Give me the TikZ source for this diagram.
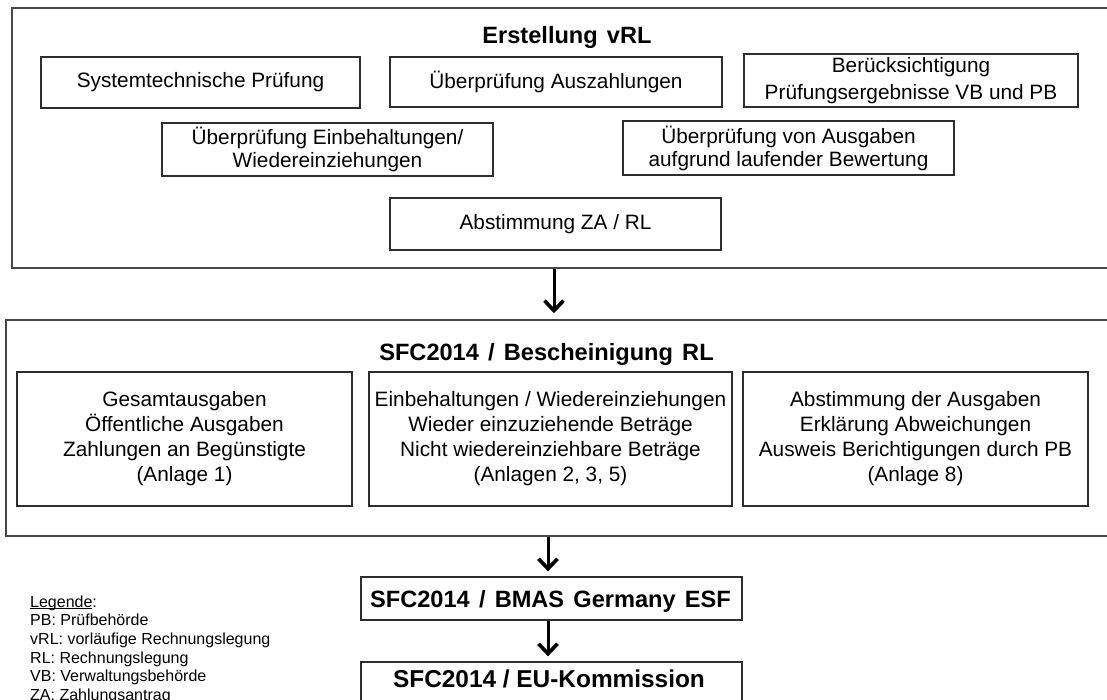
\documentclass[tikz,border=0pt]{standalone}
\usepackage{fontspec}
\setmainfont{Liberation Sans}
\usetikzlibrary{arrows.meta}

% underline that sits just under the baseline (descenders cross it)
\newlength\lowulw
\newcommand\lowul[1]{\settowidth\lowulw{#1}\rlap{\rule[-1.8pt]{\lowulw}{0.9pt}}#1}

% wider word spacing, as a multiple of the font's normal space
\newlength\wsbase
\newcommand\widespace[1]{\wsbase=\fontdimen2\font\relax\spaceskip=#1\wsbase\relax}

% box placed by its corners (x1,y1) and (x2,y2), y counted downwards
\newcommand\placebox[7]{%
  \node[#1, minimum width={#4pt-#2pt}, minimum height={#5pt-#3pt}]
    (#6) at ({(#2+#4)/2},{(#3+#5)/2}) {#7};}

\newcommand\titlefont{\fontsize{23.6}{27}\selectfont\bfseries\widespace{1.4}}

\tikzset{
  outerbox/.style={draw=black!72, line width=1.5pt, inner sep=0pt},
  itembox/.style={draw=black!82, line width=1.3pt, inner sep=0pt, align=center,
    font=\fontsize{20.8}{25}\selectfont},
  tightbox/.style={itembox, font=\fontsize{20.8}{23}\selectfont},
  loosebox/.style={itembox, font=\fontsize{20.8}{27}\selectfont},
  flowbox/.style={draw=black!82, line width=1.3pt, inner sep=0pt},
  titletext/.style={anchor=base, inner sep=0pt, font=\titlefont},
  legendtext/.style={anchor=base west, inner sep=0pt, font=\fontsize{16}{18.7}\selectfont},
  barbhead/.tip={Straight Barb[length=10pt, width=19pt, line width=3.6pt]},
}

\begin{document}
\begin{tikzpicture}[x=1pt, y=-1pt]
  \useasboundingbox (0,0) rectangle (1107,700);
  \fill[white] (0,0) rectangle (1107,700);
  \clip (0,0) rectangle (1107,700);

  % --- stage 1: preparation of the provisional accounts
  \placebox{outerbox}{12}{8}{1130}{268}{erst}{}
  \node[titletext] (erstTitle) at (567,44) {Erstellung vRL};
  \placebox{itembox}{41}{57}{360}{108}{sysp}{Systemtechnische Prüfung}
  \placebox{itembox}{390}{57}{722}{107}{ausz}{Überprüfung Auszahlungen}
  \placebox{loosebox}{744}{54}{1078}{107}{beru}{Berücksichtigung\\Prüfungsergebnisse VB und PB}
  \placebox{tightbox}{162}{123}{493}{176}{einb}{Überprüfung Einbehaltungen/\\Wiedereinziehungen}
  \placebox{tightbox}{623}{121}{954}{175}{ausg}{Überprüfung von Ausgaben\\aufgrund laufender Bewertung}
  \placebox{itembox}{390}{198}{721}{250}{abst}{Abstimmung ZA / RL}

  % --- stage 2: certification in SFC2014
  \placebox{outerbox}{6}{320}{1130}{536}{sfc}{}
  \node[titletext] (sfcTitle) at (546.5,360) {SFC2014 / Bescheinigung RL};
  \placebox{itembox}{17}{372}{352}{506}{anl1}{Gesamtausgaben\\Öffentliche Ausgaben\\Zahlungen an Begünstigte\\(Anlage 1)}
  \placebox{itembox}{369}{372}{732}{506}{anl2}{Einbehaltungen / Wiedereinziehungen\\Wieder einzuziehende Beträge\\Nicht wiedereinziehbare Beträge\\(Anlagen 2, 3, 5)}
  \placebox{itembox}{743}{372}{1088}{506}{anl8}{Abstimmung der Ausgaben\\Erklärung Abweichungen\\Ausweis Berichtigungen durch PB\\(Anlage 8)}

  % --- stages 3 and 4: transmission
  \placebox{flowbox}{361}{577}{742}{620}{bmas}{}
  \node[titletext] (bmasText) at (550.5,607) {SFC2014 / BMAS Germany ESF};
  \placebox{flowbox}{361}{662}{742}{730}{eu}{}
  \node[anchor=base, inner sep=0pt, font=\fontsize{24.4}{28}\selectfont\bfseries]
    (euText) at (549,687) {SFC2014 / EU-Kommission};

  % --- flow arrows
  \coordinate (axisA) at (554,0);
  \coordinate (axisB) at (548,0);
  \draw[line width=3pt, shorten >=6pt, -barbhead] (erst.south -| axisA) -- (sfc.north -| axisA);
  \draw[line width=3pt, shorten >=5pt, -barbhead] (sfc.south -| axisB) -- (bmas.north -| axisB);
  \draw[line width=3pt, shorten >=5pt, -barbhead] (bmas.south -| axisB) -- (eu.north -| axisB);

  % --- legend
  \node[legendtext] (leg0) at (30,607)   {\lowul{Legende}:};
  \node[legendtext] (leg1) at (30,625.7) {PB: Prüfbehörde};
  \node[legendtext] (leg2) at (30,644.4) {vRL: vorläufige Rechnungslegung};
  \node[legendtext] (leg3) at (30,663.1) {RL: Rechnungslegung};
  \node[legendtext] (leg4) at (30,681.8) {VB: Verwaltungsbehörde};
  \node[legendtext] (leg5) at (30,700.5) {ZA: Zahlungsantrag};
\end{tikzpicture}
\end{document}
